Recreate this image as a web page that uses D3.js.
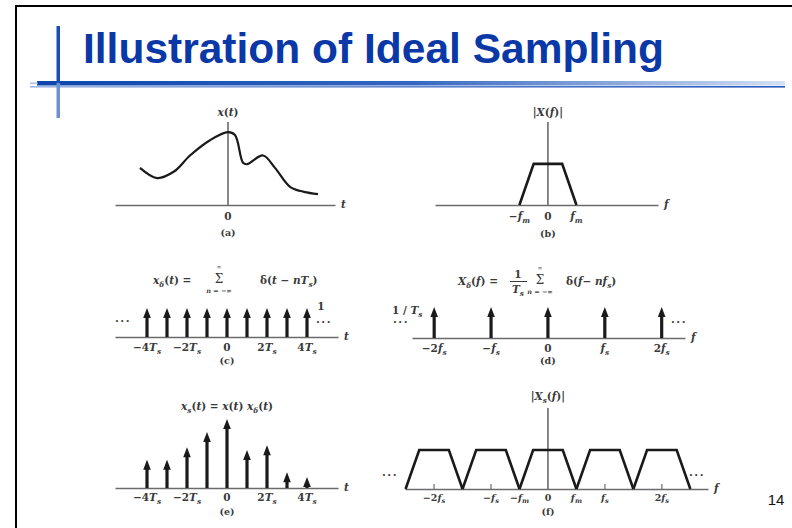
<!DOCTYPE html>
<html><head><meta charset="utf-8">
<script src="https://cdn.jsdelivr.net/npm/d3@7"></script>
<style>body{margin:0;background:#fff} svg{display:block}</style>
</head><body><svg id="c" width="792" height="528"></svg>
<script>
// ---------------- data ----------------
const titleText = "Illustration of Ideal Sampling";
const pageNumber = "14";
// (a) continuous signal x(t), t in units of Ts
const signalT = [-4.4, -3.55, -2.7, -1.9, -0.9, 0, 0.35, 0.75, 0.95, 1.75, 2.35, 3.1, 3.8, 4.5];
const signalX = [0.51, 0.37, 0.46, 0.68, 0.89, 1.0, 0.96, 0.58, 0.56, 0.68, 0.51, 0.25, 0.18, 0.15];
// (b) band-limited spectrum, f in units of fm
const specF = [-1, -0.5, 0.5, 1];
const specMag = [0, 1, 1, 0];
const specTickF = [-1, 0, 1];
const specTickLabels = [["−", "i:f", "s:m"], ["0"], ["i:f", "s:m"]];
// (c) impulse train, n
const combN = [-4, -3, -2, -1, 0, 1, 2, 3, 4];
const combTickN = [-4, -2, 0, 2, 4];
const combTickLabels = [["−4", "i:T", "s:s"], ["−2", "i:T", "s:s"], ["0"], ["2", "i:T", "s:s"], ["4", "i:T", "s:s"]];
// (d) spectrum of impulse train, f in units of fs
const combFreqN = [-2, -1, 0, 1, 2];
const combFreqLabels = [["−2", "i:f", "s:s"], ["−", "i:f", "s:s"], ["0"], ["i:f", "s:s"], ["2", "i:f", "s:s"]];
// (e) sampled signal values x(nTs)
const sampledX = [0.41, 0.41, 0.59, 0.81, 1.0, 0.55, 0.62, 0.23, 0.16];
// (f) replicated spectrum, f in units of fs
const replicaN = [-2, -1, 0, 1, 2];
const replicaHalfBase = 0.5;   // fm / fs
const replicaHalfTop = 0.26;
const sampledTickF = [-2, -1, -0.5, 0, 0.5, 1, 2];
const sampledTickLabels = [["−2", "i:f", "s:s"], ["−", "i:f", "s:s"], ["−", "i:f", "s:m"], ["0"], ["i:f", "s:m"], ["i:f", "s:s"], ["2", "i:f", "s:s"]];
const sampledMinorTicks = [-2, -1, 1, 2];

// ---------------- drawing ----------------
const svg = d3.select("#c");
const AX = "#6b6b6b", INK = "#1a1a1a", TXT = "#3a3a3a";
const SERIF = "DejaVu Serif, Liberation Serif, serif";
const FS = 10.5;

// slide frame
svg.append("line").attr("x1", 16).attr("x2", 16).attr("y1", 5).attr("y2", 528).attr("stroke", "#000").attr("stroke-width", 2);
svg.append("line").attr("x1", 15).attr("x2", 792).attr("y1", 6).attr("y2", 6).attr("stroke", "#000").attr("stroke-width", 2);

const defs = svg.append("defs");
const g1 = defs.append("linearGradient").attr("id", "rule1");
g1.append("stop").attr("offset", "0").attr("stop-color", "#0c45ad");
g1.append("stop").attr("offset", "0.5").attr("stop-color", "#3566c0");
g1.append("stop").attr("offset", "1").attr("stop-color", "#d4e0f3");
const g2 = defs.append("linearGradient").attr("id", "rule2");
g2.append("stop").attr("offset", "0").attr("stop-color", "#9db6e2");
g2.append("stop").attr("offset", "1").attr("stop-color", "#2858bd");

svg.append("rect").attr("x", 37).attr("y", 81).attr("width", 748).attr("height", 4.5).attr("fill", "url(#rule1)");
svg.append("rect").attr("x", 30).attr("y", 86).attr("width", 755).attr("height", 1.6).attr("fill", "url(#rule2)");
svg.append("rect").attr("x", 30).attr("y", 82.5).attr("width", 8).attr("height", 1.3).attr("fill", "#9db6e2");
svg.append("rect").attr("x", 56.5).attr("y", 26).attr("width", 3.5).attr("height", 57).attr("fill", "#1a4db0");
svg.append("rect").attr("x", 56.5).attr("y", 83).attr("width", 3.5).attr("height", 35).attr("fill", "#6a90cf");

svg.append("text").attr("x", 83).attr("y", 63)
  .attr("font-family", "Liberation Sans, Arial, sans-serif").attr("font-weight", "bold")
  .attr("font-size", 42).attr("fill", "#0a38a6")
  .attr("textLength", 581).attr("lengthAdjust", "spacingAndGlyphs").text(titleText);

svg.append("text").attr("x", 776).attr("y", 505).attr("text-anchor", "middle")
  .attr("font-family", "Liberation Sans, Arial, sans-serif").attr("font-size", 15).attr("fill", "#111").text(pageNumber);

// math text helper: "i:x" italic, "s:x" italic subscript, plain otherwise
function math(parent, x, y, segs, size = FS, anchor = "middle") {
  const t = parent.append("text").attr("x", x).attr("y", y).attr("text-anchor", anchor)
    .attr("font-family", SERIF).attr("font-weight", "bold").attr("font-size", size).attr("fill", TXT);
  let shifted = 0;
  const sh = size * 0.25;
  segs.forEach(s => {
    let kind = "", str = s;
    if (/^[is]:/.test(s)) { kind = s[0]; str = s.slice(2); }
    const ts = t.append("tspan").text(str);
    if (kind === "i" || kind === "s") ts.attr("font-style", "italic");
    if (kind === "s") {
      ts.attr("font-size", size * 0.7).attr("dy", sh - shifted);
      shifted = sh;
    } else if (shifted) { ts.attr("dy", -shifted); shifted = 0; }
  });
  return t;
}
function sigma(parent, x, y, lower) {
  parent.append("text").attr("x", x).attr("y", y - 1).attr("text-anchor", "middle").attr("font-family", SERIF)
    .attr("font-size", 12).attr("fill", TXT).text("Σ");
  parent.append("text").attr("x", x).attr("y", y - 15).attr("text-anchor", "middle").attr("font-family", SERIF)
    .attr("font-size", 6).attr("fill", TXT).text("∞");
  math(parent, x, y + 9, lower, 6.5);
}
function baseAxis(x, y0, label) {
  const g = svg.append("g").attr("transform", `translate(0,${y0})`)
    .call(d3.axisBottom(x).tickValues([]).tickSizeOuter(0));
  g.select(".domain").attr("stroke", AX).attr("stroke-width", 1.6);
  math(svg, x.range()[1] + 6, y0 + 3, ["i:" + label], FS, "start");
}
function arrows(x, y, ns, vals, y0) {
  const g = svg.append("g");
  ns.forEach((n, i) => {
    const px = x(n), top = y(vals[i]);
    g.append("line").attr("x1", px).attr("x2", px).attr("y1", y0).attr("y2", top + 7)
      .attr("stroke", INK).attr("stroke-width", 3.2);
    g.append("path").attr("d", `M${px - 3.8},${top + 10}L${px},${top}L${px + 3.8},${top + 10}Z`).attr("fill", INK);
  });
}
function dots(x, y) {
  svg.append("text").attr("x", x).attr("y", y).attr("font-family", SERIF).attr("font-weight", "bold")
    .attr("font-size", 11).attr("fill", TXT).attr("letter-spacing", 1.5).text("···");
}

// ---- (a) ----
{
  const x = d3.scaleLinear().domain([-5.65, 5.35]).range([115, 335]);
  const y = d3.scaleLinear().domain([0, 1.14]).range([205, 122]);
  baseAxis(x, 205, "t");
  svg.append("line").attr("x1", x(0)).attr("x2", x(0)).attr("y1", y(1.14)).attr("y2", 205).attr("stroke", AX).attr("stroke-width", 1.6);
  const pts = signalT.map((t, i) => [t, signalX[i]]);
  svg.append("path").attr("d", d3.line().x(d => x(d[0])).y(d => y(d[1])).curve(d3.curveCatmullRom.alpha(0.5))(pts))
    .attr("fill", "none").attr("stroke", INK).attr("stroke-width", 2.2);
  math(svg, x(0), 116, ["i:x", "(", "i:t", ")"]);
  math(svg, x(0), 220, ["0"]);
  math(svg, x(0), 236, ["(a)"], 9.5);
}
// ---- (b) ----
{
  const x = d3.scaleLinear().domain([-3.96, 3.86]).range([435, 658]);
  const y = d3.scaleLinear().domain([0, 2.02]).range([205, 122]);
  baseAxis(x, 205, "f");
  svg.append("line").attr("x1", x(0)).attr("x2", x(0)).attr("y1", y(2.02)).attr("y2", 205).attr("stroke", AX).attr("stroke-width", 1.6);
  const pts = specF.map((f, i) => [f, specMag[i]]);
  svg.append("path").attr("d", d3.line().x(d => x(d[0])).y(d => y(d[1]))(pts))
    .attr("fill", "none").attr("stroke", INK).attr("stroke-width", 2.6).attr("stroke-linejoin", "miter");
  specTickF.forEach((f, i) => math(svg, x(f), 220, specTickLabels[i]));
  math(svg, x(0), 116, ["|", "i:X", "(", "i:f", ")|"]);
  math(svg, x(0), 237, ["(b)"], 9.5);
}
// ---- (c) ----
{
  const x = d3.scaleLinear().domain([-5.6, 5.55]).range([115, 338]);
  const y = d3.scaleLinear().domain([0, 1]).range([337, 308]);
  baseAxis(x, 337, "t");
  arrows(x, y, combN, combN.map(() => 1), 337);
  combTickN.forEach((n, i) => math(svg, x(n), 351, combTickLabels[i]));
  math(svg, 321, 310, ["1"]);
  dots(115, 325); dots(316, 326);
  math(svg, x(0), 364, ["(c)"], 9.5);
  math(svg, 153, 284, ["i:x", "s:δ", "(", "i:t", ") ="], FS, "start");
  sigma(svg, 219, 284, ["i:n", " = −∞"]);
  math(svg, 260, 284, ["δ(", "i:t", " − ", "i:nT", "s:s", ")"], FS, "start");
}
// ---- (d) ----
{
  const x = d3.scaleLinear().domain([-2.39, 2.41]).range([412, 685]);
  const y = d3.scaleLinear().domain([0, 1]).range([338, 307]);
  baseAxis(x, 338, "f");
  arrows(x, y, combFreqN, combFreqN.map(() => 1), 338);
  combFreqN.forEach((n, i) => math(svg, x(n), 352, combFreqLabels[i]));
  math(svg, 392, 314, ["1 / ", "i:T", "s:s"], FS, "start");
  dots(393, 326); dots(671, 326);
  math(svg, x(0), 364, ["(d)"], 9.5);
  math(svg, 458, 285, ["i:X", "s:δ", "(", "i:f", ") ="], FS, "start");
  math(svg, 518, 278, ["1"]);
  svg.append("line").attr("x1", 510).attr("x2", 527).attr("y1", 281.5).attr("y2", 281.5).attr("stroke", TXT).attr("stroke-width", 1);
  math(svg, 518, 293, ["i:T", "s:s"]);
  sigma(svg, 540, 285, ["i:n", " = −∞"]);
  math(svg, 566, 285, ["δ(", "i:f", "− ", "i:nf", "s:s", ")"], FS, "start");
}
// ---- (e) ----
{
  const x = d3.scaleLinear().domain([-5.6, 5.55]).range([115, 338]);
  const y = d3.scaleLinear().domain([0, 1]).range([488, 419]);
  baseAxis(x, 488, "t");
  arrows(x, y, combN, sampledX, 488);
  combTickN.forEach((n, i) => math(svg, x(n), 501, combTickLabels[i]));
  math(svg, x(0), 515, ["(e)"], 9.5);
  math(svg, x(0), 410, ["i:x", "s:s", "(", "i:t", ") = ", "i:x", "(", "i:t", ") ", "i:x", "s:δ", "(", "i:t", ")"]);
}
// ---- (f) ----
{
  const x = d3.scaleLinear().domain([-2.51, 2.81]).range([405, 708]);
  const y = d3.scaleLinear().domain([0, 2.08]).range([489, 408]);
  baseAxis(x, 489, "f");
  svg.append("line").attr("x1", x(0)).attr("x2", x(0)).attr("y1", y(2.08)).attr("y2", 489).attr("stroke", AX).attr("stroke-width", 1.6);
  sampledMinorTicks.forEach(f => svg.append("line").attr("x1", x(f)).attr("x2", x(f)).attr("y1", 489).attr("y2", 484)
    .attr("stroke", AX).attr("stroke-width", 1.2));
  const line = d3.line().x(d => x(d[0])).y(d => y(d[1]));
  replicaN.forEach(n => {
    const pts = [[n - replicaHalfBase, 0], [n - replicaHalfTop, 1], [n + replicaHalfTop, 1], [n + replicaHalfBase, 0]];
    svg.append("path").attr("d", line(pts)).attr("fill", "none").attr("stroke", INK).attr("stroke-width", 2.6).attr("stroke-linejoin", "miter");
  });
  sampledTickF.forEach((f, i) => math(svg, x(f), 501, sampledTickLabels[i], 9.5));
  dots(382, 479); dots(689, 479);
  math(svg, x(0), 400, ["|", "i:X", "s:s", "(", "i:f", ")|"]);
  math(svg, x(0), 515, ["(f)"], 9.5);
}
</script></body></html>
